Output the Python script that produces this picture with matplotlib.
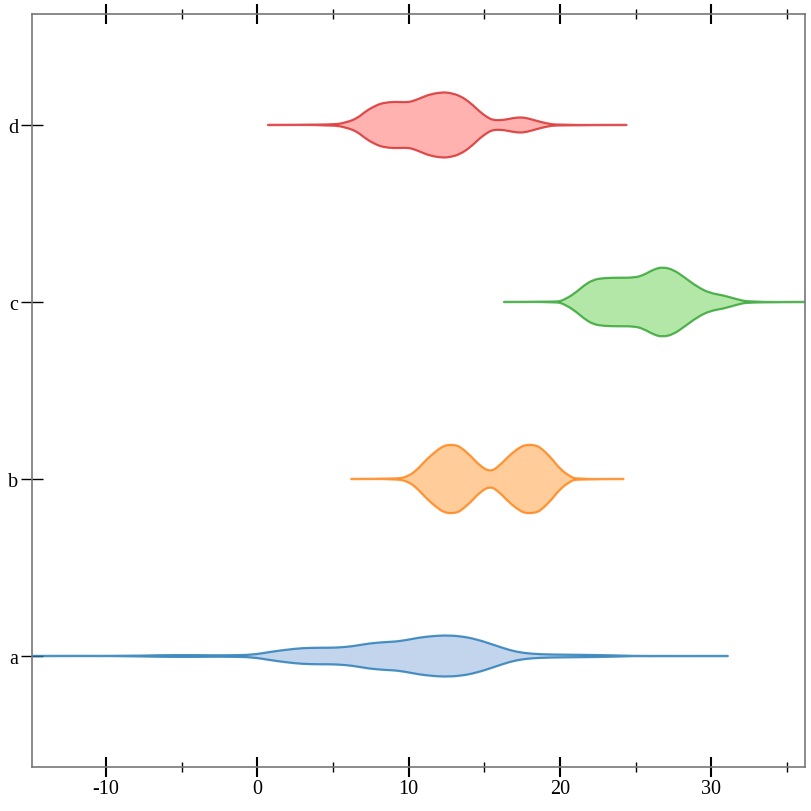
import matplotlib.pyplot as plt
from matplotlib.path import Path
from matplotlib.patches import PathPatch
from matplotlib.colors import to_rgba
from matplotlib.ticker import MultipleLocator

plt.rcParams['font.family'] = ['Liberation Serif', 'DejaVu Serif']

categories = ["a", "b", "c", "d"]

# extent of each violin's center line (min / max of the samples)
extent_a = (-14.9, 31.1)
extent_b = (6.2, 24.2)
extent_c = (16.3, 36.2)
extent_d = (0.7, 24.4)

# density outline: x values and half-widths
x_a = [-9.0, -6.5, -4.7, -3.0, -1.5, -0.3, 0.8, 1.9, 3.0, 4.1, 5.2, 6.3, 7.4, 8.5,
       9.4, 10.7, 11.5, 12.3, 13.4, 14.5, 15.6, 16.7, 17.6, 18.7, 20.4, 22.6, 24.4, 25.3]
d_a = [0.0, 0.8, 1.0, 0.7, 0.8, 1.3, 4.0, 6.3, 8.0, 8.3, 8.3, 9.7, 12.7, 14.0,
       14.7, 18.5, 19.8, 20.7, 20.0, 16.7, 11.3, 5.7, 3.0, 1.7, 1.3, 1.0, 0.3, 0.0]

x_b = [9.2, 9.9, 10.5, 11.2, 11.9, 12.3, 12.7, 13.1, 13.4, 14.1, 14.7, 15.4,
       16.0, 16.7, 17.4, 17.7, 18.0, 18.4, 18.7, 19.4, 20.0, 20.7, 21.1]
d_b = [0.0, 2.3, 8.3, 20.0, 29.0, 33.0, 34.3, 33.8, 32.3, 23.3, 13.3, 7.0,
       13.3, 24.3, 32.3, 33.8, 34.3, 33.5, 31.7, 21.7, 10.0, 2.3, 0.0]

x_c = [19.8, 20.2, 20.9, 21.6, 22.2, 22.9, 23.8, 24.9, 25.5, 26.2, 26.8, 27.5,
       28.2, 29.1, 29.9, 30.8, 31.7, 32.5]
d_c = [0.0, 1.7, 7.7, 16.7, 22.3, 24.0, 24.3, 24.3, 26.7, 32.7, 35.0, 32.3,
       25.0, 15.0, 9.0, 6.7, 2.7, 0.0]

x_d = [5.0, 5.9, 6.6, 7.2, 7.9, 8.3, 9.0, 9.9, 10.3, 10.8, 11.4, 12.2, 12.7, 13.4,
       14.1, 14.7, 15.2, 15.6, 16.3, 16.9, 17.4, 17.8, 18.5, 19.1, 19.8]
d_d = [0.0, 2.7, 6.7, 14.3, 20.0, 22.0, 23.3, 22.7, 24.0, 27.0, 30.7, 32.7, 32.3, 29.3,
       22.0, 13.3, 7.7, 4.7, 5.0, 7.0, 7.7, 7.0, 4.0, 1.7, 0.0]

stroke = ["#1f77b4", "#ff7f0e", "#2ca02c", "#d62728"]
fill = ["#aec7e8", "#ffbb78", "#98df8a", "#ff9896"]

violins = [(extent_a, x_a, d_a), (extent_b, x_b, d_b),
           (extent_c, x_c, d_c), (extent_d, x_d, d_d)]

scale = 1 / 177.0  # density units -> category band units


def smooth_path(pts):
    # quadratic bezier through midpoints, read points act as control points
    verts = [pts[0]]
    codes = [Path.MOVETO]
    for k in range(1, len(pts) - 1):
        mid = ((pts[k][0] + pts[k + 1][0]) / 2, (pts[k][1] + pts[k + 1][1]) / 2)
        verts += [pts[k], mid]
        codes += [Path.CURVE3, Path.CURVE3]
    verts.append(pts[-1])
    codes.append(Path.LINETO)
    return verts, codes


fig = plt.figure(figsize=(8.12, 8.12), dpi=100)
ax = fig.add_axes([32 / 812, 44 / 812, 773 / 812, 753 / 812])

for i, (ext, xs, ds) in enumerate(violins):
    xx = [ext[0]] + xs + [ext[1]]
    hw = [0.0] + [d * scale for d in ds] + [0.0]
    upper = [(x, i + h) for x, h in zip(xx, hw)]
    lower = [(x, i - h) for x, h in zip(xx, hw)][::-1]
    v1, c1 = smooth_path(upper)
    v2, c2 = smooth_path(lower)
    c2[0] = Path.LINETO
    path = Path(v1 + v2 + [v1[0]], c1 + c2 + [Path.CLOSEPOLY])
    ax.add_patch(PathPatch(path, facecolor=to_rgba(fill[i], 0.75),
                           edgecolor=to_rgba(stroke[i], 0.8), lw=1.6,
                           joinstyle="round", zorder=2))

ax.set_xlim(-14.9, 36.2)
ax.set_ylim(-0.627, 3.627)

ax.xaxis.set_minor_locator(MultipleLocator(5))
ax.set_xticks(range(-10, 31, 10))
ax.set_xticklabels(["-10", "0", "10", "20", "30"])
ax.set_yticks(range(len(categories)))
ax.set_yticklabels(categories)

ax.tick_params(axis="x", which="major", direction="inout", length=15, width=1.5,
               color="black", top=True, labelsize=14.5, pad=1)
ax.tick_params(axis="x", which="minor", direction="inout", length=7.5, width=1,
               color="black", top=True)
ax.tick_params(axis="y", which="major", direction="inout", length=16, width=1,
               color="black", labelsize=14.5, pad=2)

for s in ax.spines.values():
    s.set_color("#777777")
    s.set_linewidth(1.2)

fig.savefig("out.png", dpi=100)
